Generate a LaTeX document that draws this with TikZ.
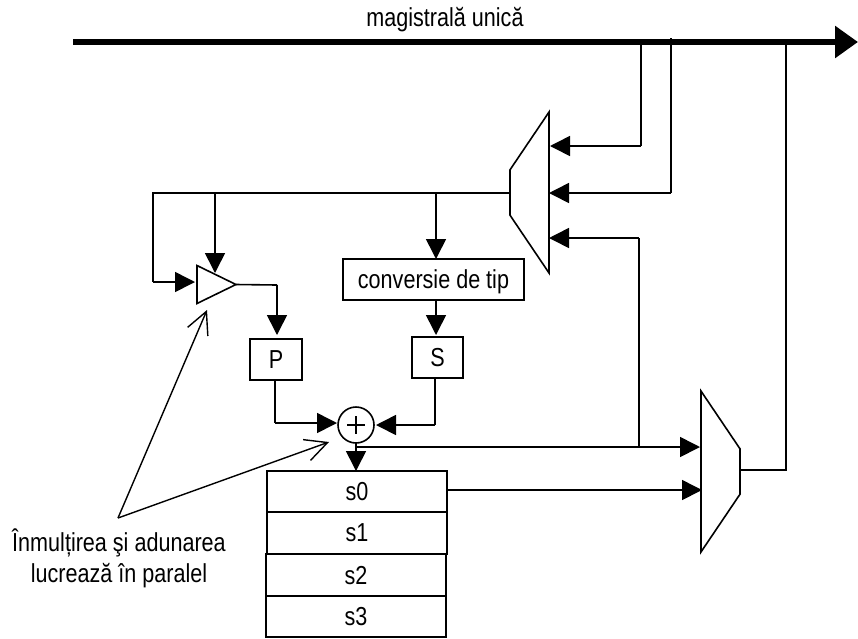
\documentclass[tikz,border=0pt]{standalone}
\usepackage{fontspec}
\setmainfont[FakeStretch=0.83]{Liberation Sans}
\usetikzlibrary{arrows.meta,shapes.geometric,calc}
\tikzset{
  wire/.style={line width=1.6pt,draw=black},
  arr/.style={wire,-{Triangle[length=20pt,width=20pt]}},
  thin arrow/.style={line width=1.4pt,-{Straight Barb[length=22pt,width=22pt]}},
  regbox/.style={draw=black,line width=1.6pt,inner sep=0pt,outer sep=0pt,text depth=0pt,font=\fontsize{26}{28}\selectfont},
  label text/.style={font=\fontsize{26}{31}\selectfont,align=center,inner sep=0pt},
  muxa/.style={draw=black,line width=1.6pt,shape=trapezium,trapezium stretches=true,trapezium left angle=45,trapezium right angle=45,inner sep=0pt,outer sep=0pt,minimum width=161pt,minimum height=39pt},
}
\begin{document}
\begin{tikzpicture}[x=1pt,y=-1pt]
\useasboundingbox (0,0) rectangle (858,638);
% bus
\coordinate (busL) at (73,42);
\coordinate (busR) at (858,42);
\draw[line width=6pt,-{Triangle[length=23pt,width=31pt]}] (busL) -- (busR);
\node[label text] (title) at (445,20) {magistrală unică};
% muxes
\node[muxa,rotate=90] (mux1) at (529.5,192.5) {\phantom{x}};
\node[muxa,rotate=-90] (mux2) at (720.5,471.5) {\phantom{x}};
% amp
\node[draw=black,line width=1.6pt,shape=isosceles triangle,isosceles triangle stretches=true,inner sep=0pt,outer sep=0pt,minimum width=38pt,minimum height=39pt] (amp) at (208,284.5) {\phantom{x}};
% boxes
\node[regbox,minimum width=181pt,minimum height=41pt] (conv) at (433.5,279.5) {conversie de tip};
\node[regbox,minimum width=51pt,minimum height=41pt] (S) at (437.5,357.5) {S};
\node[regbox,minimum width=52pt,minimum height=41pt] (P) at (276,359.5) {P};
\node[draw=black,line width=1.6pt,circle,inner sep=0pt,outer sep=0pt,minimum size=36pt] (sum) at (356,425) {};
\node[regbox,minimum width=180pt,minimum height=41pt] (s0) at (357,491.5) {s0};
\node[regbox,minimum width=180pt,minimum height=42pt] (s1) at (357,533) {s1};
\node[regbox,minimum width=180.5pt,minimum height=42pt] (s2) at (356,575) {s2};
\node[regbox,minimum width=180.5pt,minimum height=41pt] (s3) at (356,616.5) {s3};
\node[label text] (note) at (119,558) {Înmulțirea şi adunarea\\lucrează în paralel};
% plus
\coordinate (plT) at (356,416);\coordinate (plB) at (356,434);
\coordinate (plL) at (347,425);\coordinate (plR) at (365,425);
\draw[line width=1.4pt] (plT) -- (plB) (plL) -- (plR);
% junctions
\coordinate (a1) at (641,42);\coordinate (a2) at (641,146);\coordinate (a3) at (550,146);
\coordinate (b1) at (671,38);\coordinate (b2) at (671,193);\coordinate (b3) at (549,193);
\coordinate (c1) at (639,447);\coordinate (c2) at (639,238);\coordinate (c3) at (549,238);
\coordinate (d1) at (786,42);\coordinate (d2) at (786,470);\coordinate (d3) at (740,470);
\coordinate (e0) at (510,193);\coordinate (e1) at (436,193);\coordinate (e2) at (215,193);\coordinate (e3) at (153,193);\coordinate (e4) at (153,282);\coordinate (e5) at (195,282);\coordinate (e6) at (215,273);
\coordinate (f1) at (277,285);\coordinate (f2) at (277,335);
\coordinate (g1) at (436,259);
\coordinate (g2) at (436,300);\coordinate (g3) at (436,335);
\coordinate (h1) at (275,380);\coordinate (h2) at (275,423);\coordinate (h3) at (337,423);
\coordinate (i1) at (435,378);\coordinate (i2) at (435,425);\coordinate (i3) at (376,425);
\coordinate (j1) at (356,443);\coordinate (j2) at (356,471);\coordinate (j3) at (356,447);\coordinate (j4) at (700,447);
\coordinate (k1) at (447,490);\coordinate (k2) at (702,490);
\coordinate (n0) at (118,518);\coordinate (n1) at (207,310);\coordinate (n2) at (329,442);
% connectors
\draw[wire] (a1) -- (a2);
\draw[arr] (a2) -- (a3);
\draw[wire] (b1) -- (b2);
\draw[arr] (b2) -- (b3);
\draw[wire] (c1) -- (c2);
\draw[arr] (c2) -- (c3);
\draw[wire] (d1) -- (d2) -- (d3);
\draw[wire] (e0) -- (e3) -- (e4);
\draw[arr] (e4) -- (e5);
\draw[arr] (e2) -- (e6);
\draw[arr] (e1) -- (g1);
\draw[wire] (amp.apex) -- (f1);
\draw[arr] (f1) -- (f2);
\draw[arr] (g2) -- (g3);
\draw[wire] (h1) -- (h2);
\draw[arr] (h2) -- (h3);
\draw[wire] (i1) -- (i2);
\draw[arr] (i2) -- (i3);
\draw[arr] (j1) -- (j2);
\draw[wire] (j3) -- (c1);
\draw[arr] (c1) -- (j4);
\draw[arr] (k1) -- (k2);
% callouts
\draw[thin arrow] (n0) -- (n1);
\draw[thin arrow] (n0) -- (n2);
\end{tikzpicture}
\end{document}
